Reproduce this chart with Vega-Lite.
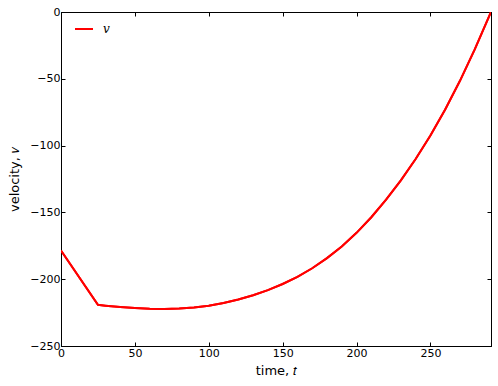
{
  "$schema": "https://vega.github.io/schema/vega-lite/v6.json",
  "width": 430,
  "height": 334,
  "autosize": "none",
  "padding": {"left": 61, "top": 12, "right": 7, "bottom": 40},
  "background": "white",
  "config": {
    "view": {"stroke": "black", "strokeWidth": 1},
    "font": "DejaVu Sans",
    "axis": {
      "grid": false,
      "domainColor": "black",
      "domainWidth": 1,
      "tickColor": "black",
      "tickSize": -4,
      "labelFlush": false,
      "labelOverlap": false,
      "labelFont": "DejaVu Sans",
      "labelFontSize": 11,
      "labelColor": "black",
      "labelPadding": 5,
      "titleFont": "DejaVu Sans",
      "titleFontSize": 13,
      "titleFontWeight": "normal",
      "titleColor": "black"
    }
  },
  "data": {
    "values": [
      {"t": 0, "v": -178.5, "series": "v"},
      {"t": 25, "v": -219.2, "series": "v"},
      {"t": 30, "v": -219.8, "series": "v"},
      {"t": 40, "v": -220.8, "series": "v"},
      {"t": 50, "v": -221.6, "series": "v"},
      {"t": 60, "v": -222.2, "series": "v"},
      {"t": 70, "v": -222.3, "series": "v"},
      {"t": 80, "v": -222.0, "series": "v"},
      {"t": 90, "v": -221.2, "series": "v"},
      {"t": 100, "v": -219.8, "series": "v"},
      {"t": 110, "v": -217.8, "series": "v"},
      {"t": 120, "v": -215.2, "series": "v"},
      {"t": 130, "v": -212.0, "series": "v"},
      {"t": 140, "v": -208.2, "series": "v"},
      {"t": 150, "v": -203.6, "series": "v"},
      {"t": 160, "v": -198.2, "series": "v"},
      {"t": 170, "v": -191.8, "series": "v"},
      {"t": 180, "v": -184.2, "series": "v"},
      {"t": 190, "v": -175.5, "series": "v"},
      {"t": 200, "v": -165.3, "series": "v"},
      {"t": 210, "v": -153.6, "series": "v"},
      {"t": 220, "v": -140.5, "series": "v"},
      {"t": 230, "v": -126.0, "series": "v"},
      {"t": 240, "v": -110.0, "series": "v"},
      {"t": 250, "v": -92.5, "series": "v"},
      {"t": 260, "v": -73.0, "series": "v"},
      {"t": 270, "v": -51.5, "series": "v"},
      {"t": 280, "v": -28.0, "series": "v"},
      {"t": 290, "v": -2.5, "series": "v"},
      {"t": 291, "v": 0, "series": "v"}
    ]
  },
  "layer": [
    {
      "mark": {"type": "line", "strokeWidth": 2, "clip": true},
      "encoding": {
        "x": {
          "field": "t", "type": "quantitative",
          "scale": {"domain": [0, 291], "nice": false, "zero": false},
          "axis": {"orient": "bottom", "values": [0, 50, 100, 150, 200, 250], "title": "time, 𝑡", "titlePadding": 6}
        },
        "y": {
          "field": "v", "type": "quantitative",
          "scale": {"domain": [-250, 0], "nice": false},
          "axis": {"orient": "left", "values": [-250, -200, -150, -100, -50, 0], "title": "velocity, 𝑣", "titlePadding": 8}
        },
        "color": {
          "field": "series", "type": "nominal",
          "scale": {"range": ["#ff0000"]},
          "legend": {
            "orient": "none",
            "legendX": 13,
            "legendY": 7,
            "title": null,
            "symbolType": "stroke",
            "symbolSize": 324,
            "symbolStrokeWidth": 2,
            "labelFont": "DejaVu Serif",
            "labelFontStyle": "italic",
            "labelFontSize": 12,
            "labelOffset": 9,
            "padding": 0
          }
        }
      }
    },
    {
      "mark": {"type": "line", "strokeWidth": 2, "clip": true},
      "encoding": {
        "x": {
          "field": "t", "type": "quantitative",
          "axis": {"orient": "top", "values": [0, 50, 100, 150, 200, 250], "labels": false, "title": null}
        },
        "y": {
          "field": "v", "type": "quantitative",
          "axis": {"orient": "right", "values": [-250, -200, -150, -100, -50, 0], "labels": false, "title": null}
        },
        "color": {"field": "series", "type": "nominal"}
      }
    }
  ],
  "resolve": {"axis": {"x": "independent", "y": "independent"}}
}
